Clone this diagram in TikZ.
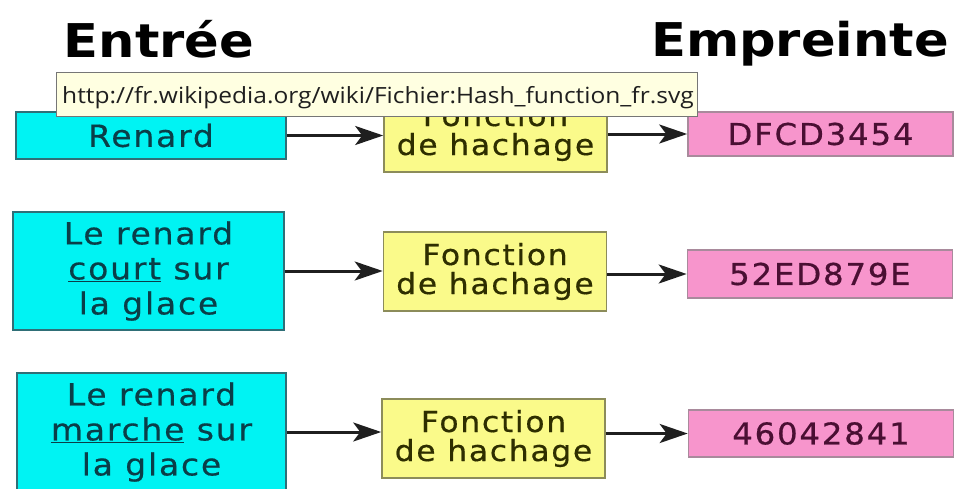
\documentclass[tikz,border=0pt]{standalone}
\usepackage{fontspec}
\usetikzlibrary{arrows.meta}
\newfontfamily\boxfont[FakeStretch=1.08,LetterSpace=6,FakeBold=0.5]{DejaVu Sans}
\newfontfamily\headfont[FakeStretch=1.1]{DejaVu Sans}
\newfontfamily\tipfont[FakeStretch=1.1]{Open Sans}

\definecolor{inFill}{HTML}{00F3F3}
\definecolor{inLine}{HTML}{2F6F77}
\definecolor{inText}{HTML}{0A3E48}
\definecolor{fnFill}{HTML}{FAFA8A}
\definecolor{fnLine}{HTML}{8C8C5A}
\definecolor{fnText}{HTML}{2E2E00}
\definecolor{outFill}{HTML}{F795CC}
\definecolor{outLine}{HTML}{A98A9C}
\definecolor{outText}{HTML}{4A0F33}
\definecolor{tipFill}{HTML}{FFFFE1}
\definecolor{tipLine}{HTML}{767676}

\begin{document}
\begin{tikzpicture}[x=1pt,y=-1pt,
  inbox/.style={draw=inLine,line width=1.6pt,fill=inFill,text=inText,
    inner sep=0pt,align=center,
    font=\boxfont\fontsize{30.5}{35}\selectfont},
  fnbox/.style={draw=fnLine,line width=1.6pt,fill=fnFill,text=fnText,
    inner sep=0pt,align=center,minimum width=223pt,minimum height=79pt,
    font=\boxfont\fontsize{29}{29}\selectfont},
  outbox/.style={draw=outLine,line width=1.6pt,fill=outFill,text=outText,
    inner sep=0pt,minimum width=265pt,
    font=\boxfont\fontsize{30}{30}\selectfont},
  title/.style={inner sep=0pt,anchor=base,
    font=\headfont\bfseries\fontsize{46.5}{50}\selectfont},
  arr/.style={draw=black!88,line width=3pt,
    -{Stealth[length=28pt,width=19pt,inset=7pt]}},
  tip/.style={draw=tipLine,line width=1pt,fill=tipFill,
    inner sep=0pt,minimum width=641pt,minimum height=44pt}
]
\path[use as bounding box,clip] (0,0) rectangle (955,488);
\fill[white] (0,0) rectangle (955,488);

% column headings
\node[title] (hin) at (159,57) {Entrée};
\node[title] (hout) at (800,56) {Empreinte};

% inputs
\node[inbox,minimum width=270pt,minimum height=47pt] (c1) at (151,135.5) {Renard};
\node[inbox,minimum width=271pt,minimum height=118pt] (c2) at (148.5,271)
  {Le renard\\$\underline{\hbox{court}}$ sur\\la glace};
\node[inbox,minimum width=269pt,minimum height=118pt] (c3) at (151.5,432)
  {Le renard\\$\underline{\hbox{marche}}$ sur\\la glace};

% hash functions
\node[fnbox] (f1) at (495.5,132.5) {Fonction\\de hachage};
\node[fnbox] (f2) at (495,271.5) {Fonction\\de hachage};
\node[fnbox] (f3) at (493.5,438.5) {Fonction\\de hachage};

% digests
\node[outbox,minimum height=44pt] (p1) at (820.5,134) {DFCD3454};
\node[outbox,minimum height=48pt] (p2) at (820,274) {52ED879E};
\node[outbox,minimum height=47pt] (p3) at (821,433.5) {46042841};

% connectors
\draw[arr] (c1.east) -- (c1.east -| f1.west);
\draw[arr] (c2.east) -- (c2.east -| f2.west);
\draw[arr] (c3.east) -- (c3.east -| f3.west);
\draw[arr] (f1.east |- p1.west) -- (p1.west);
\draw[arr] (f2.east |- p2.west) -- (p2.west);
\draw[arr] (f3.east |- p3.west) -- (p3.west);

% link tooltip drawn over the first row
\node[tip,anchor=north west] (tt) at (56,72) {};
\node[anchor=base west,inner sep=0pt,text=black!88,
  font=\tipfont\fontsize{22.3}{24}\selectfont] (url) at ([xshift=6pt,yshift=-31pt]tt.north west)
  {http://fr.wikipedia.org/wiki/Fichier:Hash\_function\_fr.svg};
\end{tikzpicture}
\end{document}
